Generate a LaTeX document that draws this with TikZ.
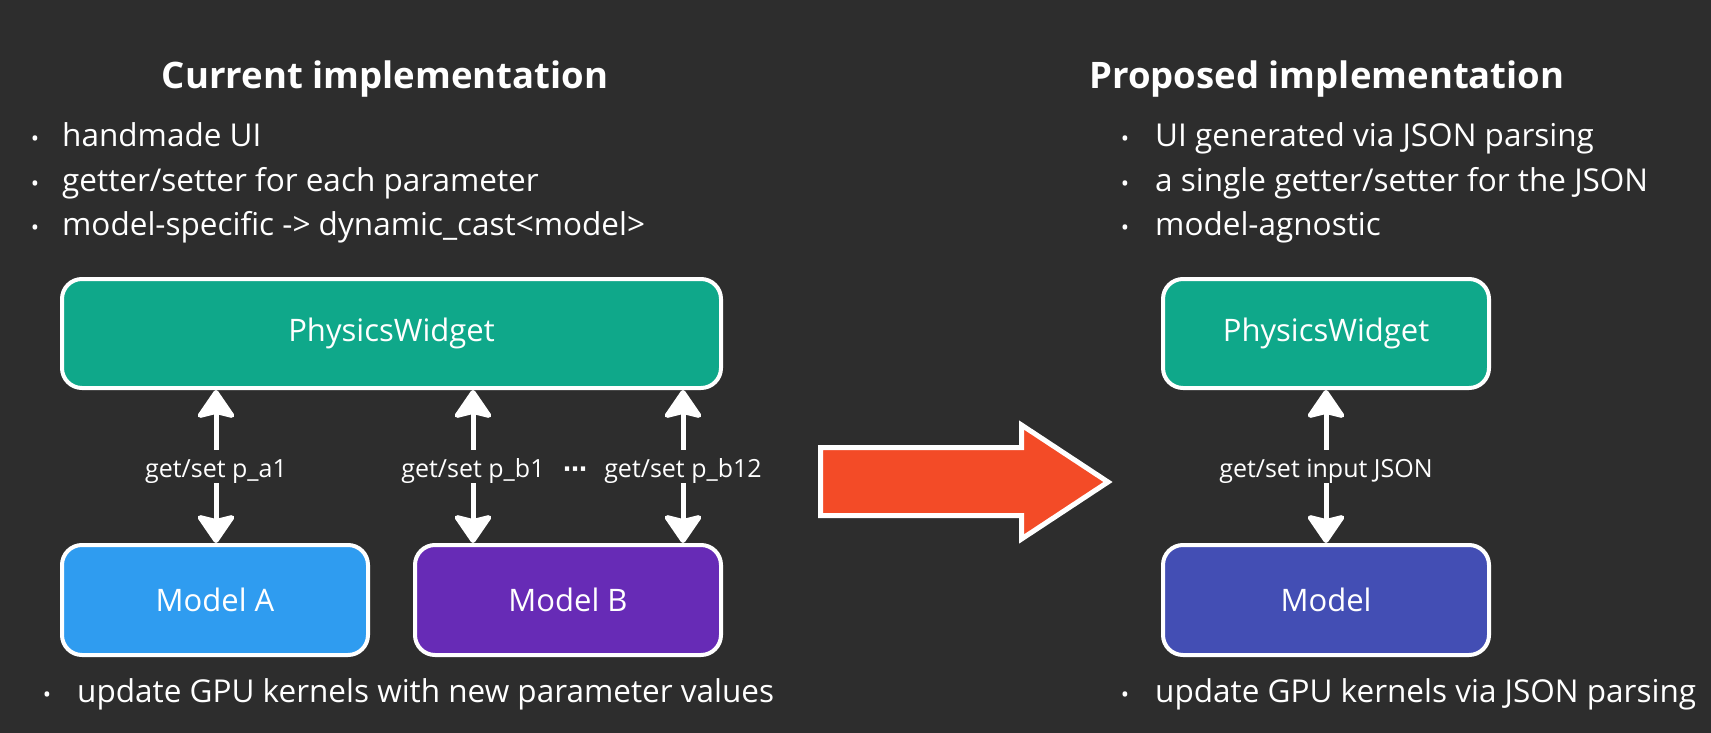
\documentclass[tikz,border=0pt]{standalone}
\usepackage{fontspec}
\setmainfont{Open Sans}
\newfontfamily\dejavu{DejaVu Sans}
\usetikzlibrary{arrows.meta}
\definecolor{bg}{HTML}{2D2D2D}
\definecolor{teal}{HTML}{0FA88A}
\definecolor{modela}{HTML}{2F9CF0}
\definecolor{modelb}{HTML}{672BB6}
\definecolor{modelc}{HTML}{434EB4}
\definecolor{bigred}{HTML}{F34B27}
\begin{document}
\begin{tikzpicture}[x=1pt,y=-1pt,
  box/.style={draw=white, line width=4pt, rounded corners=20pt, text=white,
    font=\fontsize{31}{37}\selectfont, inner sep=0pt},
  title/.style={font=\fontsize{36.5}{44}\selectfont\bfseries, text=white, anchor=base, inner sep=0pt},
  btext/.style={font=\fontsize{31.5}{38}\selectfont, text=white, anchor=base west, inner sep=0pt},
  bdot/.style={font=\fontsize{22}{26}\selectfont, text=white, anchor=base, inner sep=0pt},
  lbl/.style={font=\fontsize{25}{30}\selectfont, text=white, anchor=base, inner sep=0pt,
    text height=27pt, text depth=6pt},
  arr/.style={draw=white, line width=5pt, -{Stealth[length=31pt,width=42pt,inset=5pt,round]}}
]
\fill[bg] (0,0) rectangle (1711,733);
\useasboundingbox (0,0) rectangle (1711,733);

% titles
\node[title] (t1) at (385,89) {Current implementation};
\node[title] (t2) at (1327,89) {Proposed implementation};

% left bullets
\node[bdot] (d1) at (35,147) {•};
\node[btext] (b1) at (62,147) {handmade UI};
\node[bdot] (d2) at (35,191) {•};
\node[btext] (b2) at (62,191) {getter/setter for each parameter};
\node[bdot] (d3) at (35,235) {•};
\node[btext] (b3) at (62,235) {model-specific -> dynamic\_cast<model>};

% right bullets
\node[bdot] (e1) at (1125,147) {•};
\node[btext] (c1) at (1155,147) {UI generated via JSON parsing};
\node[bdot] (e2) at (1125,191) {•};
\node[btext] (c2) at (1155,191) {a single getter/setter for the JSON};
\node[bdot] (e3) at (1125,235) {•};
\node[btext] (c3) at (1155,235) {model-agnostic};

% boxes
\node[box, fill=teal, minimum width=659pt, minimum height=109pt] (pwl) at (391.5,333.5) {PhysicsWidget};
\node[box, fill=modela, minimum width=306pt, minimum height=110pt] (ma) at (215,600) {Model A};
\node[box, fill=modelb, minimum width=306pt, minimum height=110pt] (mb) at (568,600) {Model B};
\node[box, fill=teal, minimum width=326pt, minimum height=109pt] (pwr) at (1326,333.5) {PhysicsWidget};
\node[box, fill=modelc, minimum width=326pt, minimum height=110pt] (mr) at (1326,600) {Model};

% labels
\node[lbl] (la1) at (216,477) {get/set p\_a1};
\node[lbl] (lb1) at (473,477) {get/set p\_b1};
\node[lbl, font=\fontsize{24}{28}\dejavu\bfseries] (dots) at (575,477) {⋯};
\node[lbl] (lb12) at (683,477) {get/set p\_b12};
\node[lbl] (lj) at (1326,477) {get/set input JSON};

% arrows
\draw[arr] (la1.north) -- (pwl.south -| la1.north);
\draw[arr] (la1.south) -- (ma.north -| la1.south);
\draw[arr] (lb1.north) -- (pwl.south -| lb1.north);
\draw[arr] (lb1.south) -- (mb.north -| lb1.south);
\draw[arr] (lb12.north) -- (pwl.south -| lb12.north);
\draw[arr] (lb12.south) -- (mb.north -| lb12.south);
\draw[arr] (lj.north) -- (pwr.south);
\draw[arr] (lj.south) -- (mr.north);

% big arrow
\filldraw[fill=bigred, draw=white, line width=5pt, miter limit=10]
  (820.5,447.5) -- (1021.5,447.5) -- (1021.5,425) -- (1108,482) -- (1021.5,539)
  -- (1021.5,515.5) -- (820.5,515.5) -- cycle;

% bottom bullets
\node[bdot] (d4) at (47,702) {•};
\node[btext] (b4) at (77,702) {update GPU kernels with new parameter values};
\node[bdot] (e4) at (1125,702) {•};
\node[btext] (c4) at (1155,702) {update GPU kernels via JSON parsing};
\end{tikzpicture}
\end{document}
